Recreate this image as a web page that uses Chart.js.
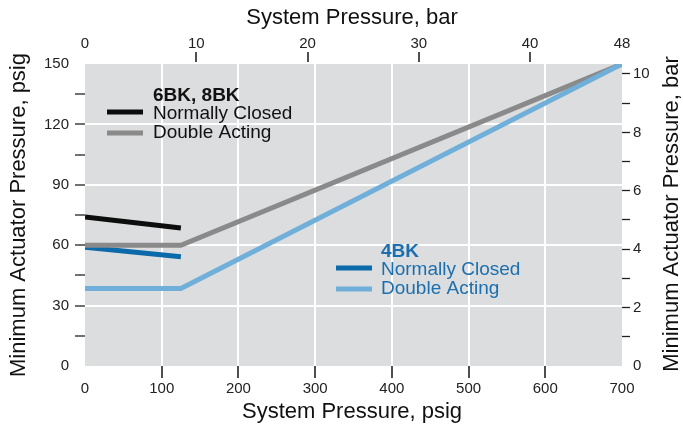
<!DOCTYPE html>
<html>
<head>
<meta charset="utf-8">
<script src="https://cdn.jsdelivr.net/npm/chart.js@4.4.1/dist/chart.umd.min.js"></script>
<style>
  body { margin: 0; background: #fff; }
  canvas { display: block; }
</style>
</head>
<body>
<canvas id="chart" width="683" height="428"></canvas>
<script>
// system pressure (psig) break points
const ncX = [0, 125];
const daX = [0, 125, 700];

// minimum actuator pressure (psig)
const nc6BK = [74, 68.5];
const da6BK = [60, 60, 150];
const nc4BK = [59, 54.3];
const da4BK = [38.5, 38.5, 150];

// tick labels
const psigTicks = [0, 100, 200, 300, 400, 500, 600, 700];
const barTopTicks = [0, 10, 20, 30, 40, 48];
const psiPerBar = 14.5038;

const FONT = '"Liberation Sans", Arial, Helvetica, sans-serif';
Chart.defaults.font.family = FONT;

const colBlack = '#0d0d0d';
const colGray = '#8a8a8a';
const colBlue = '#0b6aa9';
const colLightBlue = '#70afd9';
const colTextBlue = '#1b6fae';
const tickDark = '#222';
const none = 'rgba(0,0,0,0)';

function pts(xs, ys) {
  return xs.map((x, i) => ({ x: x, y: ys[i] }));
}

function lineSet(label, xs, ys, color) {
  return {
    label: label,
    data: pts(xs, ys),
    borderColor: color,
    borderWidth: 5,
    borderCapStyle: 'butt',
    borderJoinStyle: 'miter',
    pointRadius: 0,
    tension: 0,
    clip: 0,
  };
}

// grey plot background, top axis tick marks, legend and axis titles
const decor = {
  id: 'decor',
  beforeDraw(chart) {
    const { ctx, chartArea: a } = chart;
    ctx.save();
    ctx.fillStyle = '#dcdddf';
    ctx.fillRect(a.left, a.top, a.right - a.left, a.bottom - a.top);
    ctx.restore();
  },
  afterDraw(chart) {
    const ctx = chart.ctx;
    const top = chart.scales.xTop;
    const a = chart.chartArea;
    ctx.save();

    // short marks under the inner bar labels
    ctx.strokeStyle = tickDark;
    ctx.lineWidth = 1.6;
    barTopTicks.slice(1, -1).forEach((v) => {
      const px = Math.round(top.getPixelForValue(v));
      ctx.beginPath();
      ctx.moveTo(px, a.top - 12);
      ctx.lineTo(px, a.top - 2);
      ctx.stroke();
    });

    ctx.textBaseline = 'middle';

    // axis titles
    ctx.fillStyle = '#111';
    ctx.font = '22px ' + FONT;
    ctx.textAlign = 'center';
    ctx.fillText('System Pressure, bar', 352, 18);
    ctx.fillText('System Pressure, psig', 352, 412);

    ctx.save();
    ctx.translate(19, 215);
    ctx.rotate(-Math.PI / 2);
    ctx.fillText('Minimum Actuator Pressure, psig', 0, 0);
    ctx.restore();

    ctx.save();
    ctx.translate(672, 214);
    ctx.rotate(-Math.PI / 2);
    ctx.fillText('Minimum Actuator Pressure, bar', 0, 0);
    ctx.restore();

    // legends
    function sample(x, y, color) {
      ctx.strokeStyle = color;
      ctx.lineWidth = 5;
      ctx.lineCap = 'butt';
      ctx.beginPath();
      ctx.moveTo(x, y);
      ctx.lineTo(x + 36, y);
      ctx.stroke();
    }
    ctx.textAlign = 'left';

    ctx.fillStyle = '#111';
    ctx.font = 'bold 19px ' + FONT;
    ctx.fillText('6BK, 8BK', 153, 96);
    ctx.font = '19px ' + FONT;
    ctx.fillText('Normally Closed', 153, 114);
    ctx.fillText('Double Acting', 153, 133);
    sample(107, 112, colBlack);
    sample(107, 133, colGray);

    ctx.fillStyle = colTextBlue;
    ctx.font = 'bold 19px ' + FONT;
    ctx.fillText('4BK', 381, 252);
    ctx.font = '19px ' + FONT;
    ctx.fillText('Normally Closed', 381, 270);
    ctx.fillText('Double Acting', 381, 289);
    sample(336, 268, colBlue);
    sample(336, 289, colLightBlue);

    ctx.restore();
  }
};

const topMax = 700 / psiPerBar;

const ctx = document.getElementById('chart').getContext('2d');
new Chart(ctx, {
  type: 'line',
  data: {
    datasets: [
      lineSet('4BK Double Acting', daX, da4BK, colLightBlue),
      lineSet('6BK, 8BK Double Acting', daX, da6BK, colGray),
      lineSet('6BK, 8BK Normally Closed', ncX, nc6BK, colBlack),
      lineSet('4BK Normally Closed', ncX, nc4BK, colBlue),
    ],
  },
  options: {
    responsive: false,
    animation: false,
    layout: { padding: 0 },
    plugins: {
      legend: { display: false },
      tooltip: { enabled: false },
    },
    scales: {
      x: {
        type: 'linear',
        position: 'bottom',
        min: 0,
        max: 700,
        afterBuildTicks: (s) => { s.ticks = psigTicks.map((v) => ({ value: v })); },
        afterFit: (s) => { s.height = 62; },
        border: { display: false },
        grid: {
          color: (c) => (c.tick && c.tick.value > 0 && c.tick.value < 700 ? '#ffffff' : none),
          lineWidth: 2,
          tickLength: 12,
          tickWidth: 1.6,
          tickColor: (c) => (c.tick && c.tick.value > 0 && c.tick.value < 700 ? tickDark : none),
        },
        ticks: { color: '#222', font: { size: 15 }, padding: 2, maxRotation: 0 },
      },
      xTop: {
        type: 'linear',
        position: 'top',
        min: 0,
        max: topMax,
        afterBuildTicks: (s) => {
          s.ticks = barTopTicks.map((v, i) => ({ value: i === barTopTicks.length - 1 ? topMax : v }));
        },
        afterFit: (s) => { s.height = 64; },
        border: { display: false },
        grid: { display: false, tickLength: 10 },
        ticks: {
          color: '#222',
          font: { size: 15 },
          padding: 1,
          maxRotation: 0,
          callback: (v, i) => String(barTopTicks[i]),
        },
      },
      y: {
        type: 'linear',
        position: 'left',
        min: 0,
        max: 150,
        ticks: {
          stepSize: 15,
          color: '#222',
          font: { size: 15 },
          padding: 6,
          callback: (v) => (v % 30 === 0 ? String(v) : ''),
        },
        afterFit: (s) => { s.width = 85; },
        border: { display: false },
        grid: {
          color: (c) => (c.tick && c.tick.value % 30 === 0 && c.tick.value > 0 && c.tick.value < 150 ? '#ffffff' : none),
          lineWidth: 2,
          tickLength: 10,
          tickWidth: 1.3,
          tickColor: (c) => (c.tick && c.tick.value > 0 && c.tick.value < 150 ? tickDark : none),
        },
      },
      yBar: {
        type: 'linear',
        position: 'right',
        min: 0,
        max: 150 / psiPerBar,
        afterBuildTicks: (s) => {
          s.ticks = [0, 1, 2, 3, 4, 5, 6, 7, 8, 9, 10].map((v) => ({ value: v }));
        },
        afterFit: (s) => { s.width = 61; },
        border: { display: false },
        grid: {
          drawOnChartArea: false,
          tickLength: 8,
          tickWidth: 1.3,
          tickColor: (c) => (c.tick && c.tick.value > 0 ? tickDark : none),
        },
        ticks: {
          color: '#222',
          font: { size: 15 },
          padding: 3,
          callback: (v) => (v % 2 === 0 ? String(v) : ''),
        },
      },
    },
  },
  plugins: [decor],
});
</script>
</body>
</html>
